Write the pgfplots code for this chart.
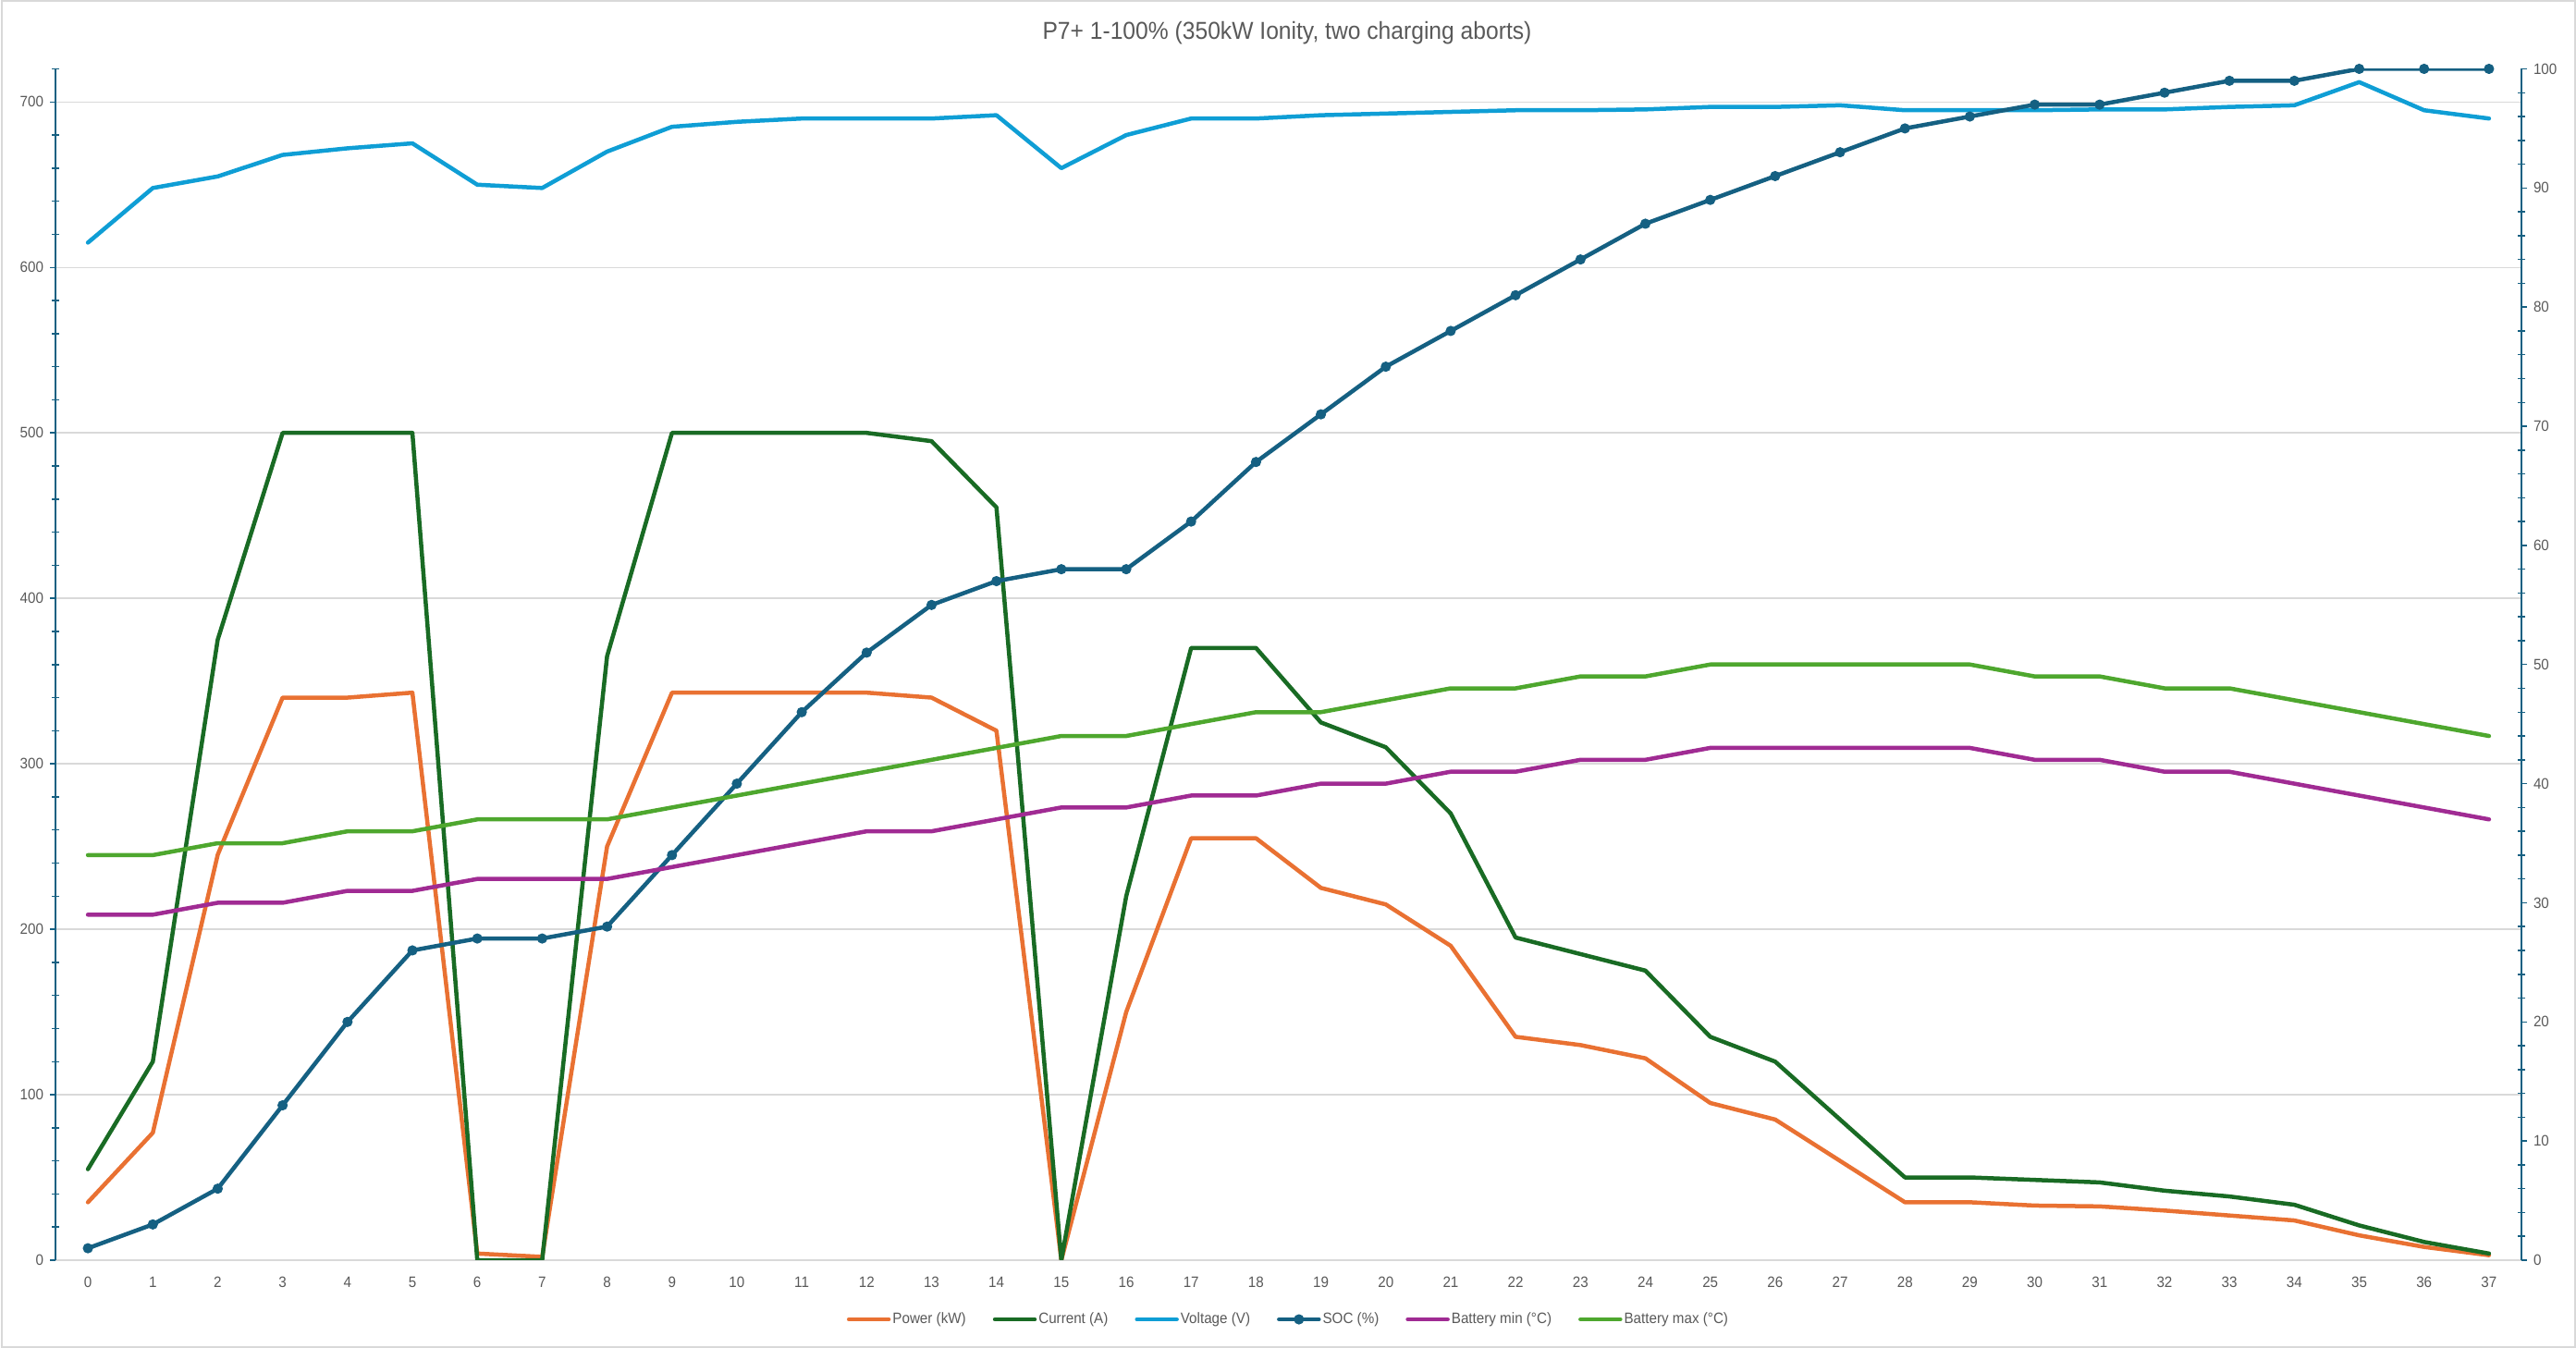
\documentclass[border=0pt]{standalone}
\usepackage{fontspec}
\setmainfont{Liberation Sans}[FakeStretch=0.93]
\usepackage{pgfplots}
\pgfplotsset{compat=1.18}
\definecolor{cPow}{HTML}{E97132}
\definecolor{cCur}{HTML}{196B24}
\definecolor{cVol}{HTML}{0F9ED5}
\definecolor{cSoc}{HTML}{156082}
\definecolor{cMin}{HTML}{A02B93}
\definecolor{cMax}{HTML}{4EA72E}
\definecolor{cGrid}{HTML}{D9D9D9}
\definecolor{cText}{HTML}{595959}
\definecolor{cAxis}{HTML}{156082}

\pgfplotstableread{
x pow cur vol soc bmin bmax
0 35 55 615 1 29 34
1 77 120 648 3 29 34
2 245 375 655 6 30 35
3 340 500 668 13 30 35
4 340 500 672 20 31 36
5 343 500 675 26 31 36
6 4 0 650 27 32 37
7 2 0 648 27 32 37
8 250 365 670 28 32 37
9 343 500 685 34 33 38
10 343 500 688 40 34 39
11 343 500 690 46 35 40
12 343 500 690 51 36 41
13 340 495 690 55 36 42
14 320 455 692 57 37 43
15 0 0 660 58 38 44
16 150 220 680 58 38 44
17 255 370 690 62 39 45
18 255 370 690 67 39 46
19 225 325 692 71 40 46
20 215 310 693 75 40 47
21 190 270 694 78 41 48
22 135 195 695 81 41 48
23 130 185 695 84 42 49
24 122 175 695.5 87 42 49
25 95 135 697 89 43 50
26 85 120 697 91 43 50
27 60 85 698 93 43 50
28 35 50 695 95 43 50
29 35 50 695 96 43 50
30 33 48.5 695 97 42 49
31 32.5 47 695.5 97 42 49
32 30 42 695.5 98 41 48
33 27 38.5 697 99 41 48
34 24 33.5 698 99 40 47
35 15 21 712 100 39 46
36 8 11 695 100 38 45
37 3 4 690 100 37 44
}\datatable

\pgfplotsset{
  common/.style={
    scale only axis, width=1333.5bp, height=644.25bp,
    at={(30bp,47.5bp)}, anchor=south west,
    xmin=-0.5, xmax=37.5,
    ticklabel style={font=\fontsize{8.2}{10}\selectfont, text=cText},
    /pgf/number format/assume math mode=true,
    tick align=outside, major tick length=3bp,
    y tick style={draw=cAxis, line width=0.75bp},
    y axis line style={draw=cAxis, line width=0.75bp, -},
    every axis plot/.append style={line width=2.25bp, line join=round, line cap=round},
  },
  pPow/.style={cPow, no markers},
  pCur/.style={cCur, no markers},
  pVol/.style={cVol, no markers},
  pSoc/.style={cSoc, mark=*, mark size=2.4bp, mark options={solid, fill=cSoc, draw=cSoc, line width=0.75bp}},
  pMin/.style={cMin, no markers},
  pMax/.style={cMax, no markers},
}

\begin{document}
\begin{tikzpicture}
\useasboundingbox (0,0) rectangle (1393bp,729bp);
\draw[cGrid, line width=1bp] (0.75bp,0.75bp) rectangle (1392.25bp,728.25bp);
\node[anchor=base, text=cText, font=\fontsize{13.3}{16}\selectfont, inner sep=0pt] at (696bp,707.8bp) {P7+ 1-100\% (350kW Ionity, two charging aborts)};

\begin{axis}[common,
  ymin=0, ymax=720,
  axis x line*=bottom, axis y line*=left,
  x axis line style={draw=cGrid, line width=1bp, -},
  xtick={0,1,...,37},
  x tick style={draw=none},
  xticklabel style={yshift=-2.5bp},
  ytick={0,100,...,700},
  ymajorgrids,
  grid style={cGrid, line width=0.75bp},
  extra y ticks={20,40,60,80,120,140,160,180,220,240,260,280,320,340,360,380,420,440,460,480,520,540,560,580,620,640,660,680,720},
  extra y tick labels={},
  extra y tick style={grid=none, tick align=center, major tick length=4bp},
]
\addplot[pPow] table[x=x,y=pow]{\datatable};
\addplot[pCur] table[x=x,y=cur]{\datatable};
\addplot[pVol] table[x=x,y=vol]{\datatable};
\end{axis}

\begin{axis}[common,
  ymin=0, ymax=100,
  axis x line=none, axis y line*=right,
  ytick={0,10,...,100},
  extra y ticks={2,4,6,8,12,14,16,18,22,24,26,28,32,34,36,38,42,44,46,48,52,54,56,58,62,64,66,68,72,74,76,78,82,84,86,88,92,94,96,98},
  extra y tick labels={},
  extra y tick style={grid=none, tick align=center, major tick length=4bp},
  legend style={at={(0.5,-0.0497)}, anchor=center, legend columns=-1, draw=none, fill=none,
    font=\fontsize{8.2}{10}\selectfont, text=cText,
    /tikz/every even column/.append style={column sep=13.5bp},
    nodes={inner xsep=1bp, inner ysep=0pt}},
  legend cell align=left,
  legend image code/.code={\draw[mark repeat=2,mark phase=2,#1] plot coordinates {(0bp,0bp) (10.75bp,0bp) (21.5bp,0bp)};},
]
\addlegendimage{pPow}
\addlegendentry{Power (kW)}
\addlegendimage{pCur}
\addlegendentry{Current (A)}
\addlegendimage{pVol}
\addlegendentry{Voltage (V)}
\addplot[pSoc] table[x=x,y=soc]{\datatable};
\addlegendentry{SOC (\%)}
\addplot[pMin] table[x=x,y=bmin]{\datatable};
\addlegendentry{Battery min (°C)}
\addplot[pMax] table[x=x,y=bmax]{\datatable};
\addlegendentry{Battery max (°C)}
\end{axis}
\end{tikzpicture}
\end{document}
